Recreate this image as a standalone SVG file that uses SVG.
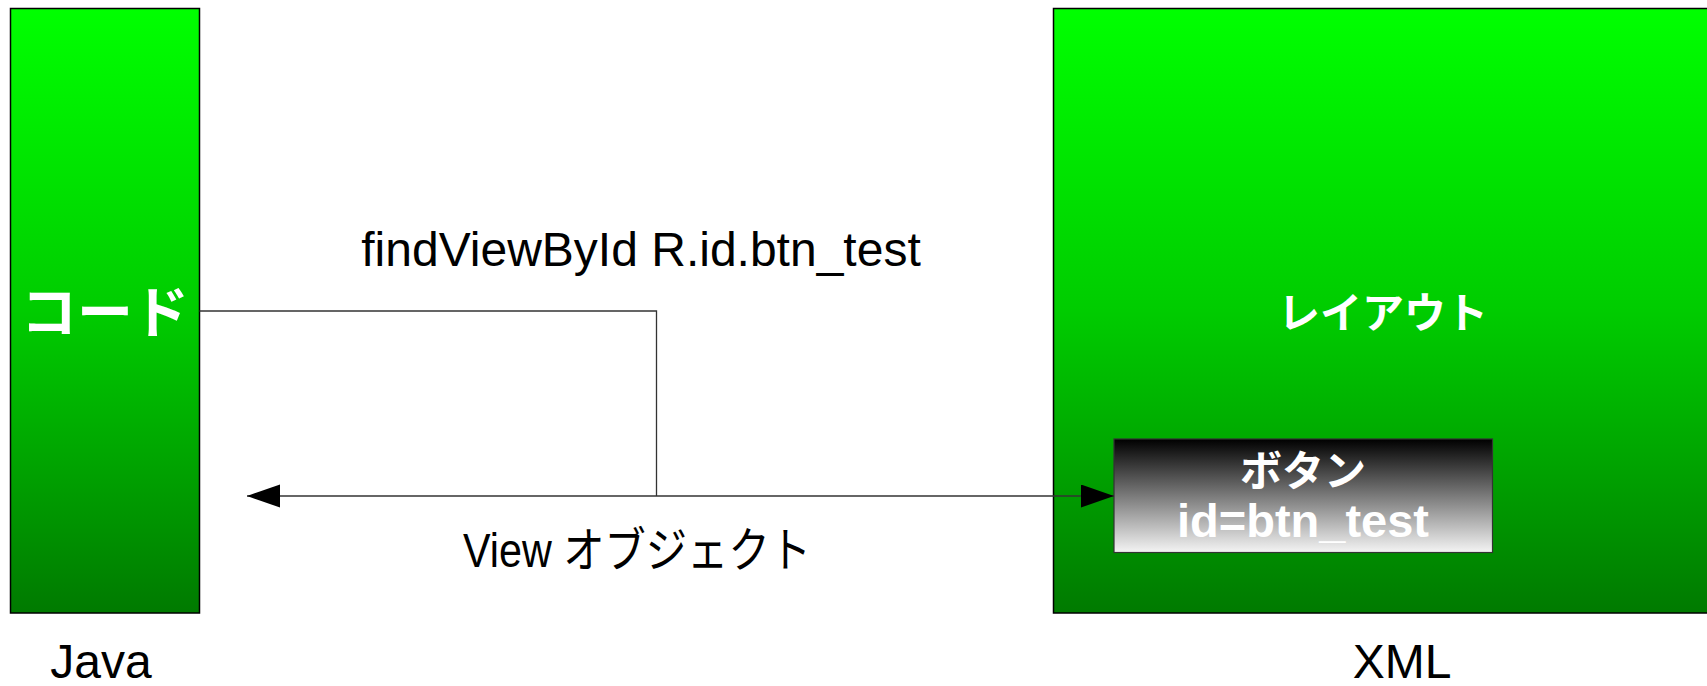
<svg xmlns="http://www.w3.org/2000/svg" width="1707" height="686" viewBox="0 0 1707 686">
<style>
.box{stroke:#000;stroke-width:1.5}
.lbl{font-family:"Liberation Sans","Noto Sans CJK JP",sans-serif;font-size:48px;fill:#000;text-anchor:middle}
.wt{font-family:"Liberation Sans","Noto Sans CJK JP",sans-serif;font-weight:bold;fill:#fff;text-anchor:middle}
.conn{fill:none;stroke:#333;stroke-width:1.3}
</style>
<defs>
<linearGradient id="g" x1="0" y1="0" x2="0" y2="1">
<stop offset="0" stop-color="#00ff00"/>
<stop offset="0.5" stop-color="#00cc00"/>
<stop offset="0.75" stop-color="#00a400"/>
<stop offset="1" stop-color="#007a00"/>
</linearGradient>
<linearGradient id="gb" x1="0" y1="0" x2="0" y2="1">
<stop offset="0" stop-color="#000000"/>
<stop offset="1" stop-color="#f4f4f4"/>
</linearGradient>
<marker id="ah" markerWidth="34" markerHeight="24" refX="33" refY="11.5" orient="auto-start-reverse" markerUnits="userSpaceOnUse">
<path d="M0,0 L33,11.5 L0,23 Z" fill="#000"/>
</marker>
</defs>
<rect width="1707" height="686" fill="#fff"/>
<g id="code">
<rect class="box" x="10.5" y="8.5" width="189" height="604.5" fill="url(#g)"/>
<text class="wt" x="105" y="332" font-size="56">コード</text>
</g>
<g id="layout">
<rect class="box" x="1053.5" y="8.5" width="660" height="604.5" fill="url(#g)"/>
<text class="wt" x="1383" y="328" font-size="42">レイアウト</text>
</g>
<g id="button">
<rect x="1114" y="439" width="378.5" height="113.5" fill="url(#gb)" stroke="#333" stroke-width="1.2"/>
<text class="wt" x="1303" y="486" font-size="42">ボタン</text>
<text class="wt" x="1303" y="537" font-size="47">id=btn_test</text>
</g>
<g id="connectors">
<path class="conn" d="M199.5,311 H656.5 V496"/>
<line class="conn" x1="247" y1="496" x2="1114" y2="496" marker-start="url(#ah)" marker-end="url(#ah)"/>
</g>
<g id="labels">
<text class="lbl" x="641" y="266">findViewById R.id.btn_test</text>
<text class="lbl" x="637" y="567" textLength="348" lengthAdjust="spacingAndGlyphs">View オブジェクト</text>
<text class="lbl" x="101" y="678">Java</text>
<text class="lbl" x="1402" y="678">XML</text>
</g>
</svg>
